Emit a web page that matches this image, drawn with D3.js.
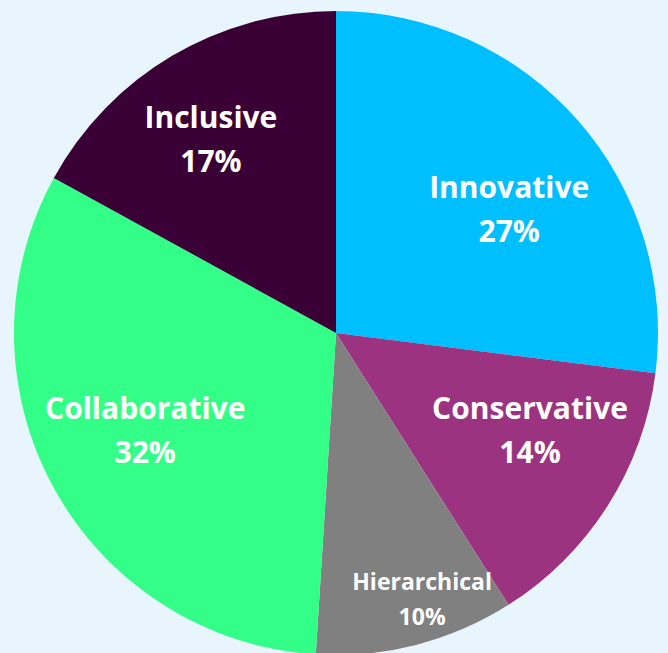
<!DOCTYPE html>
<html>
<head>
<meta charset="utf-8">
<script src="https://cdn.jsdelivr.net/npm/d3@7"></script>
<style>
  html, body { margin: 0; padding: 0; background: #e9f5fc; }
  svg { display: block; }
</style>
</head>
<body>
<svg id="chart" width="668" height="653"></svg>
<script>
// Culture types and their share (%)
const categories = ["Innovative", "Conservative", "Hierarchical", "Collaborative", "Inclusive"];
const shares = [27, 14, 10, 32, 17];
const colors = ["#00bfff", "#9c3381", "#808080", "#33ff88", "#3a0036"];

const width = 668, height = 653;
const cx = 336, cy = 333, R = 322;

// Label placement inside each slice: angle nudge (degrees) and radius fraction
const labelPlacement = {
  Innovative:    { dAngle: 6.0,  r: 0.66 },
  Conservative:  { dAngle: -5.6, r: 0.675 },
  Hierarchical:  { dAngle: -3.5, r: 0.87 },
  Collaborative: { dAngle: 1.8,  r: 0.665 },
  Inclusive:     { dAngle: -2.3, r: 0.715 }
};

const svg = d3.select("#chart");
const g = svg.append("g").attr("transform", `translate(${cx},${cy})`);

const data = categories.map((c, i) => ({ name: c, value: shares[i], color: colors[i] }));

const pie = d3.pie().value(d => d.value).sort(null);
const arc = d3.arc().innerRadius(0).outerRadius(R);
const arcs = pie(data);

g.selectAll("path.slice")
  .data(arcs)
  .join("path")
  .attr("class", "slice")
  .attr("d", arc)
  .attr("fill", d => d.data.color);

const isSmall = d => d.data.value < 12;
const labelPos = d => {
  const p = labelPlacement[d.data.name];
  const a = (d.startAngle + d.endAngle) / 2 + p.dAngle * Math.PI / 180;
  const r = p.r * R;
  return [r * Math.sin(a), -r * Math.cos(a)];
};

const labels = g.selectAll("g.label")
  .data(arcs)
  .join("g")
  .attr("class", "label")
  .attr("transform", d => `translate(${labelPos(d)})`)
  .attr("font-family", "'Open Sans', sans-serif")
  .attr("font-weight", "bold")
  .attr("fill", "#ffffff")
  .attr("text-anchor", "middle");

labels.append("text")
  .attr("font-size", d => isSmall(d) ? 23 : 30)
  .attr("y", d => isSmall(d) ? -9.5 : -11.5)
  .text(d => d.data.name);

labels.append("text")
  .attr("font-size", d => isSmall(d) ? 23 : 30)
  .attr("y", d => isSmall(d) ? 25.5 : 32.5)
  .text(d => d.data.value + "%");
</script>
</body>
</html>
